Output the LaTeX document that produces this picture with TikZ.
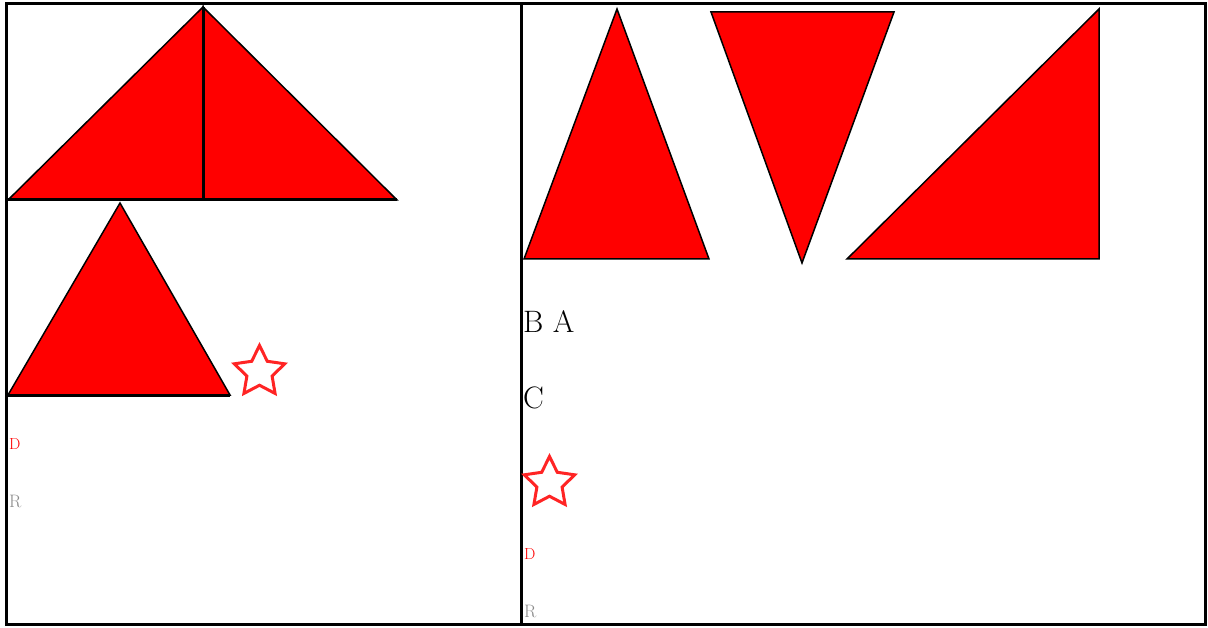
\documentclass[tikz,border=0pt]{standalone}
\usetikzlibrary{shapes.geometric, positioning}
\definecolor{ShapeRed}{HTML}{FF0000}
\definecolor{StarRed}{HTML}{FF2424}
\definecolor{LabelGray}{HTML}{8A8A8A}

\begin{document}
\begin{tikzpicture}[x=1pt, y=-1pt,
  tri/.style={fill=ShapeRed, draw=black, line width=1.5pt},
  base/.style={draw=black, line width=3pt},
  hollowstar/.style={star, star points=5, star point ratio=2.0, minimum size=53pt,
    inner sep=0pt, draw=StarRed, line width=3pt},
  big/.style={anchor=base west, inner sep=0pt, font=\fontsize{31}{36}\selectfont},
  tag/.style={anchor=base west, inner sep=0pt}
]
\useasboundingbox (0,0) rectangle (1208,628);

% frame and divider
\draw[base] (6,4) rectangle (1205,624);
\draw[base] (521,4) -- (521,624);

% left panel
\draw[tri] (8,200) -- (203,7) -- (203,200) -- cycle;
\draw[tri] (203,7) -- (397,200) -- (203,200) -- cycle;
\draw[base] (203,7) -- (203,200);
\draw[base] (8,200) -- (397,200);
\draw[tri] (8,395) -- (120,203) -- (230,395) -- cycle;
\draw[base] (8,395) -- (230,395);
\node[hollowstar] (star1) at (259.5,372) {};
\node[tag, text=ShapeRed, font=\fontsize{16}{18}\selectfont] (d1) at (9,449) {D};
\node[tag, text=LabelGray, font=\fontsize{18}{21}\selectfont] (r1) at (9,507) {R};

% right panel
\draw[tri] (524,259) -- (617,9) -- (709,259) -- cycle;
\draw[tri] (711,12) -- (894,12) -- (802,263) -- cycle;
\draw[tri] (847,259) -- (1099,9) -- (1099,259) -- cycle;
\node[big] (ba) at (523,333) {B A};
\node[big] (c) at (523,409) {C};
\node[hollowstar] (star2) at (549.5,483) {};
\node[tag, text=ShapeRed, font=\fontsize{16}{18}\selectfont] (d2) at (524,559) {D};
\node[tag, text=LabelGray, font=\fontsize{18}{21}\selectfont] (r2) at (524,617) {R};
\end{tikzpicture}
\end{document}
